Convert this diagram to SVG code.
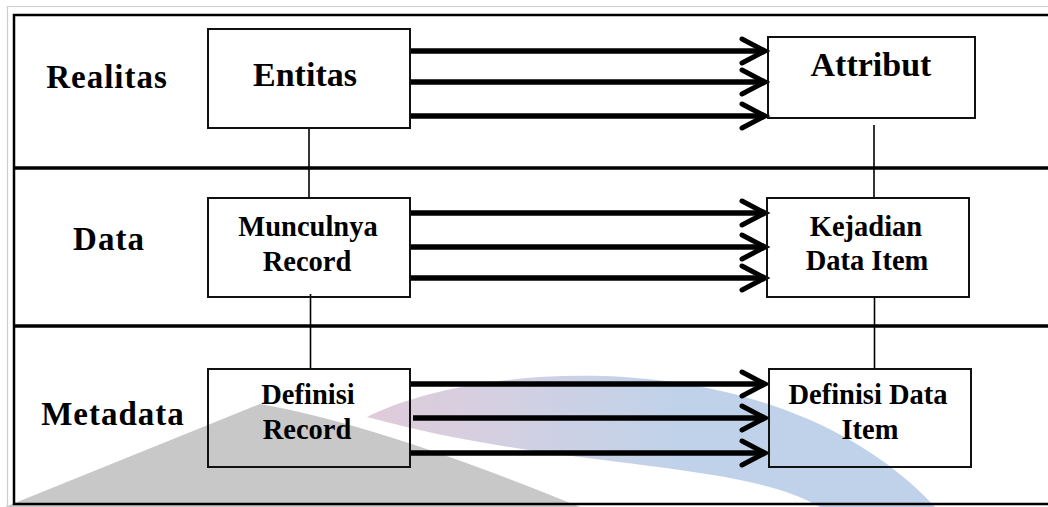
<svg xmlns="http://www.w3.org/2000/svg" width="1048" height="507" viewBox="0 0 1048 507">
  <defs>
    <linearGradient id="arcFill" x1="367" y1="0" x2="680" y2="0" gradientUnits="userSpaceOnUse">
      <stop offset="0" stop-color="#e0cbd9"/>
      <stop offset="0.45" stop-color="#d3d0e2"/>
      <stop offset="1" stop-color="#bfd2e9"/>
    </linearGradient>
  </defs>
  <style>
    .frame { fill: none; stroke: #000; stroke-width: 2.5; }
    .divider { stroke: #000; stroke-width: 3.5; }
    .box { fill: none; stroke: #111; stroke-width: 2; }
    .link { stroke: #000; stroke-width: 1.6; fill: none; }
    .flow { stroke: #000; stroke-width: 5.5; fill: none; stroke-linejoin: miter; }
    .head { stroke: #000; stroke-width: 5; fill: none; stroke-linecap: round; stroke-linejoin: miter; }
    text { font-family: "Liberation Serif", "Times New Roman", serif; font-weight: bold; fill: #000; text-anchor: middle; }
    .layer { font-size: 33px; letter-spacing: 1px; }
    .big { font-size: 34px; }
    .small { font-size: 28.5px; }
  </style>

  <rect x="0" y="0" width="1048" height="507" fill="#fff"/>
  <!-- thin outer border -->
  <path d="M7.5,507 V6.5 H1048" fill="none" stroke="#cccccc" stroke-width="1.2"/>

  <!-- background emblem shapes -->
  <g id="emblem">
    <path d="M260,404 Q380,425 580,507 L0,507 L0,509 Z" fill="#c8c8c8"/>
    <path d="M367,417 C480,360 780,340 935,507 L820,507 C740,460 560,470 367,417 Z" fill="url(#arcFill)"/>
  </g>

  <!-- layer frame and row separators -->
  <g id="frame">
    <rect class="frame" x="14" y="15" width="1045" height="489"/>
    <line class="divider" x1="14" y1="168" x2="1048" y2="168"/>
    <line class="divider" x1="14" y1="326" x2="1048" y2="326"/>
  </g>

  <!-- layer labels -->
  <g id="label-realitas"><text class="layer" x="107" y="88">Realitas</text></g>
  <g id="label-data"><text class="layer" x="109" y="250">Data</text></g>
  <g id="label-metadata"><text class="layer" x="113" y="425">Metadata</text></g>

  <!-- connectors -->
  <g id="connectors">
    <line class="link" x1="309" y1="128" x2="309" y2="198"/>
    <line class="link" x1="874" y1="125" x2="874" y2="198"/>
    <line class="link" x1="310.5" y1="294" x2="310.5" y2="369"/>
    <line class="link" x1="874.5" y1="297" x2="874.5" y2="369"/>

    <!-- Realitas row -->
    <line class="flow" x1="410" y1="51" x2="762" y2="51"/>
    <line class="flow" x1="410" y1="82" x2="762" y2="82"/>
    <line class="flow" x1="410" y1="116" x2="762" y2="116"/>
    <path class="head" d="M742,39 L765,51 L742,63"/>
    <path class="head" d="M742,70 L765,82 L742,94"/>
    <path class="head" d="M742,104 L765,116 L742,128"/>

    <!-- Data row -->
    <line class="flow" x1="410" y1="213" x2="762" y2="213"/>
    <line class="flow" x1="410" y1="247" x2="762" y2="247"/>
    <line class="flow" x1="410" y1="278" x2="762" y2="278"/>
    <path class="head" d="M742,201 L765,213 L742,225"/>
    <path class="head" d="M742,235 L765,247 L742,259"/>
    <path class="head" d="M742,266 L765,278 L742,290"/>

    <!-- Metadata row -->
    <line class="flow" x1="410" y1="384" x2="762" y2="384"/>
    <line class="flow" x1="413" y1="418" x2="762" y2="418"/>
    <line class="flow" x1="410" y1="453" x2="762" y2="453"/>
    <path class="head" d="M742,372 L765,384 L742,396"/>
    <path class="head" d="M742,406 L765,418 L742,430"/>
    <path class="head" d="M742,441 L765,453 L742,465"/>
  </g>

  <!-- nodes -->
  <g id="entitas">
    <rect class="box" x="208" y="29" width="202" height="99"/>
    <text class="big" x="305" y="86">Entitas</text>
  </g>
  <g id="attribut">
    <rect class="box" x="768" y="37" width="207" height="81"/>
    <text class="big" x="871" y="76">Attribut</text>
  </g>
  <g id="munculnya-record">
    <rect class="box" x="208" y="198" width="202" height="99"/>
    <text class="small" x="308" y="236">Munculnya</text>
    <text class="small" x="307" y="271">Record</text>
  </g>
  <g id="kejadian-data-item">
    <rect class="box" x="767" y="198" width="202" height="99"/>
    <text class="small" x="866" y="236">Kejadian</text>
    <text class="small" x="867" y="270">Data Item</text>
  </g>
  <g id="definisi-record">
    <rect class="box" x="208" y="369" width="202" height="98"/>
    <text class="small" x="308" y="404">Definisi</text>
    <text class="small" x="307" y="439">Record</text>
  </g>
  <g id="definisi-data-item">
    <rect class="box" x="769" y="369" width="202" height="98"/>
    <text class="small" x="868" y="404">Definisi Data</text>
    <text class="small" x="870" y="439">Item</text>
  </g>
</svg>
